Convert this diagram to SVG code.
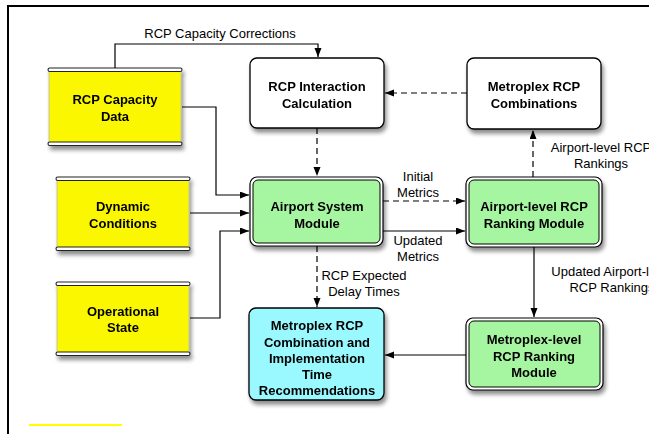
<svg xmlns="http://www.w3.org/2000/svg" width="649" height="434" viewBox="0 0 649 434">
<defs>
<filter id="sh" x="-20%" y="-20%" width="150%" height="150%">
<feGaussianBlur in="SourceAlpha" stdDeviation="2.2"/>
<feOffset dx="2" dy="4" result="b"/>
<feComponentTransfer><feFuncA type="linear" slope="0.45"/></feComponentTransfer>
<feMerge><feMergeNode/><feMergeNode in="SourceGraphic"/></feMerge>
</filter>
<marker id="ah" markerUnits="userSpaceOnUse" markerWidth="10" markerHeight="8" refX="9" refY="3.5" orient="auto">
<path d="M0,0 L9,3.5 L0,7 z" fill="#000"/>
</marker>
</defs>
<style>
.b{font-family:"Liberation Sans",Arial,sans-serif;font-size:13px;font-weight:bold;text-anchor:middle;fill:#000}
.l{font-family:"Liberation Sans",Arial,sans-serif;font-size:13px;text-anchor:middle;fill:#000}
.wb{fill:#fff;stroke:#000;stroke-width:1.3}
.gout{fill:#fff;stroke:#000;stroke-width:1.2}
.gin{fill:#a6f5a0;stroke:#000;stroke-width:1}
.cy{fill:#9af8ff;stroke:#000;stroke-width:1.3}
.yb{fill:#faf700;stroke:#aaa;stroke-width:0.6}
.bar{fill:#fff;stroke:#222;stroke-width:1.1}
.c{fill:none;stroke:#000;stroke-width:1.2}
.d{stroke-dasharray:6,4}
</style>
<rect width="649" height="434" fill="#fff"/>
<path d="M8,434 V6 H649" fill="none" stroke="#000" stroke-width="2"/>
<line x1="29" y1="425" x2="122" y2="425" stroke="#ffff00" stroke-width="2"/>

<g id="rcp-capacity-data" filter="url(#sh)">
<rect class="yb" x="49" y="70" width="132" height="73"/>
<rect class="bar" x="48" y="68" width="134" height="3.5" rx="1.75"/>
<rect class="bar" x="48" y="142" width="134" height="3.5" rx="1.75"/>
<text class="b" x="115" y="104">RCP Capacity</text>
<text class="b" x="115" y="121">Data</text>
</g>
<g id="dynamic-conditions" filter="url(#sh)">
<rect class="yb" x="57" y="179" width="132" height="69"/>
<rect class="bar" x="56" y="177" width="134" height="3.5" rx="1.75"/>
<rect class="bar" x="56" y="247" width="134" height="3.5" rx="1.75"/>
<text class="b" x="123" y="211">Dynamic</text>
<text class="b" x="123" y="228">Conditions</text>
</g>
<g id="operational-state" filter="url(#sh)">
<rect class="yb" x="57" y="284" width="132" height="69"/>
<rect class="bar" x="56" y="282" width="134" height="3.5" rx="1.75"/>
<rect class="bar" x="56" y="352" width="134" height="3.5" rx="1.75"/>
<text class="b" x="123" y="316">Operational</text>
<text class="b" x="123" y="332">State</text>
</g>

<g id="rcp-interaction" filter="url(#sh)">
<rect class="wb" x="250" y="58" width="134" height="70" rx="7"/>
<text class="b" x="317" y="91">RCP Interaction</text>
<text class="b" x="317" y="108">Calculation</text>
</g>
<g id="metroplex-rcp-combinations" filter="url(#sh)">
<rect class="wb" x="467" y="58" width="134" height="71" rx="7"/>
<text class="b" x="534" y="91">Metroplex RCP</text>
<text class="b" x="534" y="108">Combinations</text>
</g>
<g id="airport-system-module" filter="url(#sh)">
<rect class="gout" x="250" y="177" width="133" height="69" rx="7"/>
<rect class="gin" x="253" y="180" width="127" height="63" rx="5"/>
<text class="b" x="317" y="211">Airport System</text>
<text class="b" x="317" y="228">Module</text>
</g>
<g id="airport-level-ranking" filter="url(#sh)">
<rect class="gout" x="466" y="177" width="136" height="70" rx="7"/>
<rect class="gin" x="469" y="180" width="130" height="64" rx="5"/>
<text class="b" x="534" y="211">Airport-level RCP</text>
<text class="b" x="534" y="228">Ranking Module</text>
</g>
<g id="metroplex-level-ranking" filter="url(#sh)">
<rect class="gout" x="466" y="318" width="137" height="72" rx="7"/>
<rect class="gin" x="469" y="321" width="131" height="66" rx="5"/>
<text class="b" x="534" y="344">Metroplex-level</text>
<text class="b" x="534" y="361">RCP Ranking</text>
<text class="b" x="534" y="377">Module</text>
</g>
<g id="metroplex-recommendations" filter="url(#sh)">
<rect class="cy" x="249" y="308" width="135" height="92" rx="7"/>
<text class="b" x="317" y="330">Metroplex RCP</text>
<text class="b" x="317" y="347">Combination and</text>
<text class="b" x="317" y="363">Implementation</text>
<text class="b" x="317" y="379">Time</text>
<text class="b" x="317" y="395">Recommendations</text>
</g>

<g id="connectors">
<path class="c" d="M115,68 V44 H318 V57" marker-end="url(#ah)"/>
<path class="c" d="M182,107 H216 V195 H249" marker-end="url(#ah)"/>
<path class="c" d="M190,213 H249" marker-end="url(#ah)"/>
<path class="c" d="M190,318 H220 V231 H249" marker-end="url(#ah)"/>
<path class="c d" d="M467,93 H385" marker-end="url(#ah)"/>
<path class="c d" d="M317,128 V176" marker-end="url(#ah)"/>
<path class="c d" d="M533,177 V130" marker-end="url(#ah)"/>
<path class="c d" d="M383,201 H465" marker-end="url(#ah)"/>
<path class="c" d="M383,231 H465" marker-end="url(#ah)"/>
<path class="c d" d="M317,246 V307" marker-end="url(#ah)"/>
<path class="c" d="M534,247 V317" marker-end="url(#ah)"/>
<path class="c" d="M466,355 H385" marker-end="url(#ah)"/>
<text class="l" x="220" y="38">RCP Capacity Corrections</text>
<text class="l" x="418" y="181">Initial</text>
<text class="l" x="418" y="197">Metrics</text>
<text class="l" x="418" y="245">Updated</text>
<text class="l" x="418" y="261">Metrics</text>
<text class="l" x="364" y="280">RCP Expected</text>
<text class="l" x="364" y="296">Delay Times</text>
<text class="l" x="601" y="152">Airport-level RCP</text>
<text class="l" x="601" y="168">Rankings</text>
<text class="l" x="612" y="276">Updated Airport-level</text>
<text class="l" x="612" y="292">RCP Rankings</text>
</g>
</svg>
